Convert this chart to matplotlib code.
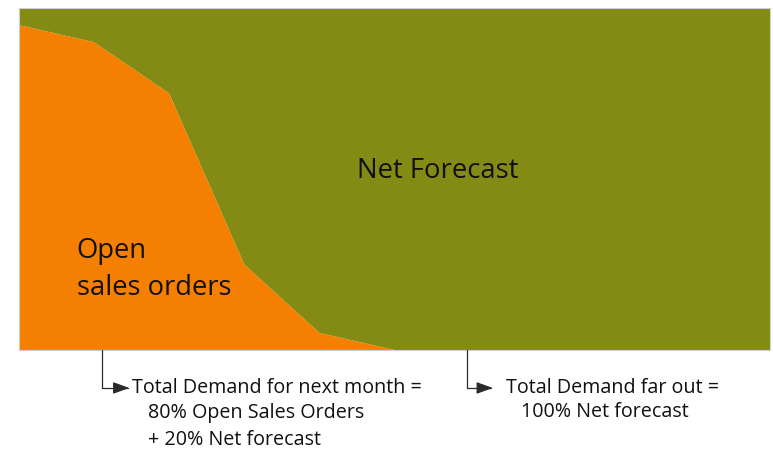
import matplotlib
matplotlib.use("Agg")
import matplotlib.pyplot as plt

# demand share per period (percent of total)
periods = [0, 1, 2, 3, 4, 5, 6, 7, 8, 9, 10]
open_sales = [95, 90, 75, 25, 5, 0, 0, 0, 0, 0, 0]
net_forecast = [100 - v for v in open_sales]

orange = "#f57f00"
olive = "#848b14"

plt.rcParams['font.family'] = ['Open Sans', 'DejaVu Sans']

fig = plt.figure(figsize=(7.73, 4.53), dpi=100)
ax = fig.add_axes([19/773, 1-350/453, 751/773, 342/453])

ax.stackplot(periods, open_sales, net_forecast, colors=[orange, olive], linewidth=0)
ax.set_xlim(0, 10)
ax.set_ylim(0, 100)
ax.set_xticks([])
ax.set_yticks([])
for s in ax.spines.values():
    s.set_color("#cfcfcf")
    s.set_linewidth(0.8)

ax.text(5.58, 52.3, "Net Forecast", fontsize=19.8, ha="center", va="center", color="#111111")
ax.text(0.77, 23.5, "Open\nsales orders", fontsize=19.7, ha="left", va="center",
        color="#111111", linespacing=1.4)

# callouts under the chart
tr = ax.get_xaxis_transform()
arrow = dict(arrowstyle="-|>,head_length=0.5,head_width=0.18",
             connectionstyle="angle,angleA=90,angleB=0,rad=0",
             color="#2a2a2a", lw=0.9, shrinkA=0, shrinkB=0, mutation_scale=20)
ax.annotate("", xy=(1.47, -0.111), xycoords=tr, xytext=(1.1, 0), textcoords=tr,
            arrowprops=arrow, annotation_clip=False)
ax.annotate("", xy=(6.31, -0.111), xycoords=tr, xytext=(5.96, 0), textcoords=tr,
            arrowprops=arrow, annotation_clip=False)

small = 14.2
ax.text(1.51, -0.111, "Total Demand for next month =", transform=tr, fontsize=small,
        ha="left", va="center", color="#111111")
ax.text(1.72, -0.184, "80% Open Sales Orders", transform=tr, fontsize=small,
        ha="left", va="center", color="#111111")
ax.text(1.72, -0.263, "+ 20% Net forecast", transform=tr, fontsize=small,
        ha="left", va="center", color="#111111")
ax.text(6.48, -0.111, "Total Demand far out =", transform=tr, fontsize=small,
        ha="left", va="center", color="#111111")
ax.text(6.69, -0.181, "100% Net forecast", transform=tr, fontsize=small,
        ha="left", va="center", color="#111111")

fig.savefig("out.png", dpi=100)
